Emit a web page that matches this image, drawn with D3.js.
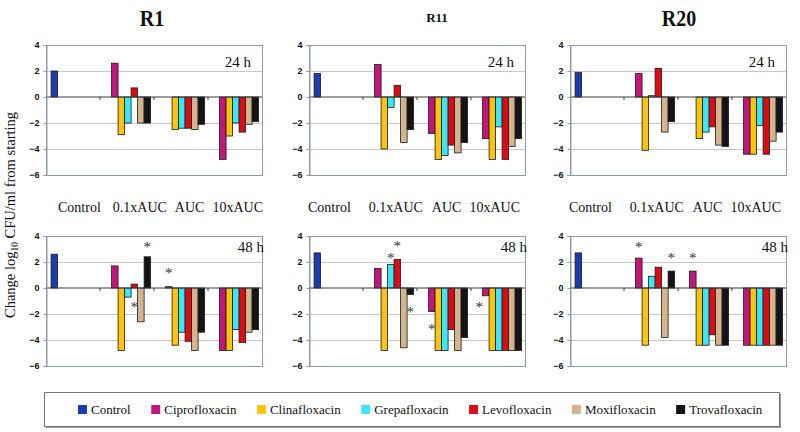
<!DOCTYPE html>
<html>
<head>
<meta charset="utf-8">
<script src="https://cdn.jsdelivr.net/npm/d3@7"></script>
<style>
  html, body { margin: 0; padding: 0; background: #fff; }
  svg { display: block; }
</style>
</head>
<body>
<svg id="chart" width="800" height="432"></svg>
<script>
// ---------- DATA ----------
const categories = ["Control", "0.1xAUC", "AUC", "10xAUC"];
const seriesNames = ["Control", "Ciprofloxacin", "Clinafloxacin", "Grepafloxacin", "Levofloxacin", "Moxifloxacin", "Trovafloxacin"];
const seriesColors = ["#1c3cb4", "#c4157c", "#fcc40c", "#3ce6f4", "#dc0c14", "#d4b48c", "#141418"];
const strains = ["R1", "R11", "R20"];
const timeLabels = ["24 h", "48 h"];
const yTicks = [4, 2, 0, -2, -4, -6];

// Each panel: [control value, 0.1xAUC drugs, AUC drugs, 10xAUC drugs]
// drug order: Cipro, Clina, Grepa, Levo, Moxi, Trova
const R1_24h  = [2.0, [2.6, -2.9, -2.0, 0.7, -2.0, -2.0], [null, -2.5, -2.4, -2.4, -2.5, -2.1], [-4.8, -3.0, -2.0, -2.7, -2.1, -1.9]];
const R11_24h = [1.8, [2.5, -4.0, -0.8, 0.9, -3.5, -2.5], [-2.8, -4.8, -4.5, -3.7, -4.3, -3.5], [-3.2, -4.8, -2.3, -4.8, -3.8, -3.2]];
const R20_24h = [1.9, [1.8, -4.1, 0.1, 2.2, -2.7, -1.9], [null, -3.2, -2.7, -2.3, -3.7, -3.8], [-4.4, -4.4, -2.2, -4.4, -3.4, -2.7]];
const R1_48h  = [2.6, [1.7, -4.8, -0.7, 0.3, -2.6, 2.4], [0.1, -4.4, -3.4, -4.1, -4.8, -3.4], [-4.8, -4.8, -3.2, -4.2, -3.4, -3.2]];
const R11_48h = [2.7, [1.5, -4.8, 1.8, 2.2, -4.6, -0.5], [-1.8, -4.8, -4.8, -3.2, -4.8, -3.8], [-0.6, -4.8, -4.8, -4.8, -4.8, -4.8]];
const R20_48h = [2.7, [2.3, -4.4, 0.9, 1.6, -3.8, 1.3], [1.3, -4.4, -4.4, -3.6, -4.4, -4.4], [-4.4, -4.4, -4.4, -4.4, -4.4, -4.4]];

// significance markers: [category index, series index, value]
const R1_48h_stars  = [[1, 6, 3.3], [1, 4, -1.3], [2, 1, 1.3]];
const R11_48h_stars = [[1, 3, 2.5], [1, 4, 3.35], [1, 6, -1.7], [2, 1, -3.0], [3, 0, -1.3]];
const R20_48h_stars = [[1, 1, 3.3], [1, 6, 2.5], [2, 1, 2.5]];

const panelData = [[R1_24h, R11_24h, R20_24h], [R1_48h, R11_48h, R20_48h]];
const panelStars = [[[], [], []], [R1_48h_stars, R11_48h_stars, R20_48h_stars]];

// ---------- LAYOUT ----------
const svg = d3.select("#chart");
const panelX = [46, 309, 570];
const panelW = 216;
const rowY = [[45, 175], [236, 366]];
const serif = "'Liberation Serif', 'Times New Roman', serif";
const sans = "'Liberation Sans', Arial, sans-serif";

function toBars(panel) {
  const bars = [];
  bars.push({ cat: categories[0], s: 0, v: panel[0] });
  for (let c = 1; c < 4; c++) {
    panel[c].forEach((v, i) => { if (v !== null) bars.push({ cat: categories[c], s: i + 1, v: v }); });
  }
  return bars;
}

timeLabels.forEach((tl, r) => {
  strains.forEach((st, p) => {
    const x0 = panelX[p];
    const [yTop, yBot] = rowY[r];
    const y = d3.scaleLinear().domain([4, -6]).range([yTop, yBot]);
    const x = d3.scaleBand().domain(categories).range([x0, x0 + panelW]).padding(0);
    const xs = d3.scaleBand().domain(d3.range(seriesNames.length)).range([0, x.bandwidth()])
      .paddingInner(0).paddingOuter(0.65).align(0.6);
    const g = svg.append("g");

    // gridlines
    g.selectAll("line.grid").data(yTicks.filter(t => t !== 0 && t !== 4 && t !== -6)).enter()
      .append("line")
      .attr("x1", x0).attr("x2", x0 + panelW)
      .attr("y1", d => y(d) + 0.5).attr("y2", d => y(d) + 0.5)
      .attr("stroke", "#c8c8c8").attr("stroke-width", 1);

    // plot border
    g.append("rect")
      .attr("x", x0 + 0.5).attr("y", yTop + 0.5)
      .attr("width", panelW).attr("height", yBot - yTop)
      .attr("fill", "none").attr("stroke", "#8e9aa8").attr("stroke-width", 1);

    // bars
    const bars = toBars(panelData[r][p]);
    g.selectAll("rect.bar").data(bars).enter().append("rect")
      .attr("x", d => x(d.cat) + xs(d.s))
      .attr("width", xs.bandwidth())
      .attr("y", d => Math.min(y(d.v), y(0)))
      .attr("height", d => Math.abs(y(d.v) - y(0)))
      .attr("fill", d => seriesColors[d.s])
      .attr("stroke", "#1a1a1a").attr("stroke-width", 0.8);

    // zero line
    g.append("line")
      .attr("x1", x0).attr("x2", x0 + panelW)
      .attr("y1", y(0)).attr("y2", y(0))
      .attr("stroke", "#3a3a3a").attr("stroke-width", 1.2);
    // category boundary ticks
    g.selectAll("line.ctick").data(categories.slice(1)).enter().append("line")
      .attr("x1", d => x(d)).attr("x2", d => x(d))
      .attr("y1", y(0)).attr("y2", y(0) + 3)
      .attr("stroke", "#3a3a3a").attr("stroke-width", 1);

    // y axis
    const ax = g.append("g").attr("transform", `translate(${x0 + 0.5},0)`)
      .call(d3.axisLeft(y).tickValues(yTicks).tickSize(3).tickPadding(4).tickFormat(d3.format("d")));
    ax.select(".domain").attr("stroke", "#8e9aa8");
    ax.selectAll(".tick line").attr("stroke", "#8e9aa8");
    ax.selectAll(".tick text").attr("font-family", sans).attr("font-weight", "bold")
      .attr("font-size", 9).attr("fill", "#111");

    // time label
    g.append("text")
      .attr("x", r === 0 ? x0 + panelW - 11 : x0 + panelW + 2)
      .attr("y", r === 0 ? yTop + 22 : yTop + 16)
      .attr("text-anchor", "end")
      .attr("font-family", serif).attr("font-size", 15).attr("fill", "#111")
      .text(tl);

    // stars
    g.selectAll("text.star").data(panelStars[r][p]).enter().append("text")
      .attr("x", d => x(categories[d[0]]) + xs(d[1]) + xs.bandwidth() / 2)
      .attr("y", d => y(d[2]) + 7)
      .attr("text-anchor", "middle")
      .attr("font-family", serif).attr("font-size", 15).attr("fill", "#333")
      .text("*");

    // category labels under top row
    if (r === 0) {
      const t = g.append("text")
        .attr("x", p === 0 ? x0 + 12 : x0 - 1)
        .attr("y", 212)
        .attr("font-family", serif).attr("font-size", 14).attr("fill", "#111");
      const gaps = p === 0 ? [0, 12, 8, 8] : [0, 18, 9, 8];
      categories.forEach((c, i) => t.append("tspan").attr("dx", gaps[i]).text(c));
    }
  });
});

// strain titles
const titleX = [152, 437, 679];
strains.forEach((s, i) => {
  const big = i !== 1;
  svg.append("text")
    .attr("transform", `translate(${titleX[i]},${big ? 26 : 22}) scale(1,${big ? 1.18 : 1})`)
    .attr("text-anchor", "middle")
    .attr("font-family", serif).attr("font-weight", "bold")
    .attr("font-size", big ? 20 : 13).attr("fill", "#111")
    .text(s);
});

// y axis title
const yt = svg.append("text")
  .attr("transform", "translate(15,215) rotate(-90)")
  .attr("text-anchor", "middle")
  .attr("font-family", serif).attr("font-size", 14.5).attr("fill", "#111");
yt.append("tspan").text("Change log");
yt.append("tspan").attr("font-size", 9.5).attr("dy", 3).text("10");
yt.append("tspan").attr("dy", -3).text(" CFU/ml from starting");

// legend
svg.append("rect").attr("x", 46).attr("y", 394).attr("width", 735).attr("height", 34).attr("fill", "#999");
svg.append("rect").attr("x", 44.5).attr("y", 392.5).attr("width", 735).attr("height", 34)
  .attr("fill", "#fff").attr("stroke", "#777").attr("stroke-width", 1);
let lx = 78;
seriesNames.forEach((n, i) => {
  const lg = svg.append("g");
  lg.append("rect").attr("x", lx).attr("y", 405).attr("width", 9).attr("height", 9).attr("fill", seriesColors[i]);
  const tx = lg.append("text").attr("x", lx + 13).attr("y", 414)
    .attr("font-family", serif).attr("font-size", 13).attr("fill", "#111").text(n);
  lx += 13 + tx.node().getComputedTextLength() + 20.5;
});
</script>
</body>
</html>
